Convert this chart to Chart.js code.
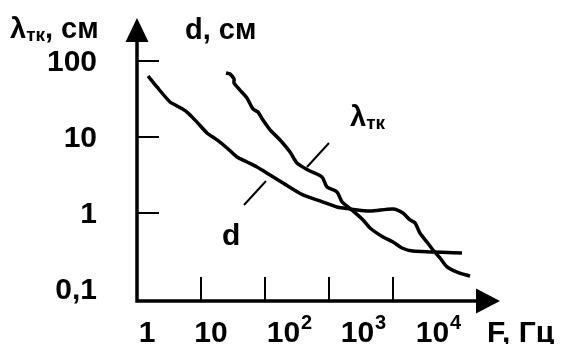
<!DOCTYPE html>
<html>
<head>
<meta charset="utf-8">
<script src="https://cdn.jsdelivr.net/npm/chart.js@4/dist/chart.umd.min.js"></script>
<style>
html,body{margin:0;padding:0;background:#fff;}
canvas{display:block;}
</style>
</head>
<body>
<canvas id="c" width="566" height="344"></canvas>
<script>
// ---- data ----
const F_D = [1.49, 2.05, 3.28, 4.22, 6.04, 8.66, 12.4, 17.8, 25.5, 36.5, 52.3, 75, 120, 191, 392, 723, 1334, 2130, 4370, 10000, 14300, 18400, 22100, 26300, 33900, 42200, 54200, 69800, 100000, 160000];
const D_CM = [63.5, 45.5, 28.9, 25.6, 21.3, 15.7, 11.3, 9.14, 7.17, 5.46, 4.69, 4.03, 3.16, 2.48, 1.73, 1.44, 1.2, 1.13, 1.06, 1.13, 1.0, 0.81, 0.74, 0.546, 0.415, 0.326, 0.256, 0.195, 0.167, 0.148];
const F_L = [24.6, 28.4, 32.8, 32.8, 40.7, 52.3, 64.9, 77.7, 93, 120, 172, 246, 316, 470, 777, 931, 1334, 1596, 2290, 3400, 4370, 6980, 10000, 13800, 20500, 119700];
const L_CM = [69.5, 67.5, 58, 51.4, 41.5, 32.6, 23.4, 21.3, 16.7, 12.4, 9.14, 6.35, 4.55, 3.68, 2.98, 2.2, 1.89, 1.4, 1.09, 0.81, 0.635, 0.483, 0.415, 0.346, 0.316, 0.298];
const Y_TICKS = [100, 10, 1, 0.1];
const Y_TICK_LABELS = ['100', '10', '1', '0,1'];
const Y_TICK_MARKS = [100, 10, 1];
const X_TICKS = [1, 10, 100, 1000, 10000];
const X_TICK_BASE = ['1', '10', '10', '10', '10'];
const X_TICK_EXP = ['', '', '2', '3', '4'];
const X_TICK_MARKS = [10, 100, 1000, 10000];

// ---- layout / style ----
const FONT = '"Liberation Sans", Arial, sans-serif';
const BIG = 'bold 30px ' + FONT;
const MID = 'bold 29px ' + FONT;
const SMALL = 'bold 19px ' + FONT;
const SUP = 'bold 20px ' + FONT;
const X_LABEL_CENTERS = [147, 211, 289, 363, 438];

function drawSub(ctx, x, y, font, main, sub, rest) {
  ctx.textAlign = 'left';
  ctx.textBaseline = 'alphabetic';
  ctx.font = font;
  ctx.fillText(main, x, y);
  x += ctx.measureText(main).width;
  ctx.font = SMALL;
  ctx.fillText(sub, x, y + 3);
  x += ctx.measureText(sub).width;
  if (rest) {
    ctx.font = font;
    ctx.fillText(rest, x, y);
  }
}

const axesPlugin = {
  id: 'axesPlugin',
  afterDraw(chart) {
    const ctx = chart.ctx;
    const xs = chart.scales.x, ys = chart.scales.y;
    const a = chart.chartArea;
    const ox = a.left, oy = a.bottom;
    ctx.save();
    ctx.fillStyle = '#000';
    ctx.strokeStyle = '#000';
    // axis lines
    ctx.lineWidth = 3.5;
    ctx.beginPath();
    ctx.moveTo(ox, oy + 1.75);
    ctx.lineTo(ox, a.top + 22);
    ctx.moveTo(ox - 1.75, oy);
    ctx.lineTo(a.right - 22, oy);
    ctx.stroke();
    // arrowheads
    ctx.beginPath();
    ctx.moveTo(ox, a.top);
    ctx.lineTo(ox - 11.5, a.top + 24);
    ctx.lineTo(ox + 11.5, a.top + 24);
    ctx.closePath();
    ctx.fill();
    ctx.beginPath();
    ctx.moveTo(a.right, oy);
    ctx.lineTo(a.right - 24, oy - 12.5);
    ctx.lineTo(a.right - 24, oy + 12.5);
    ctx.closePath();
    ctx.fill();
    // tick marks
    ctx.lineWidth = 2;
    ctx.beginPath();
    Y_TICK_MARKS.forEach(v => {
      const y = Math.round(ys.getPixelForValue(v));
      ctx.moveTo(ox, y);
      ctx.lineTo(ox + 22, y);
    });
    X_TICK_MARKS.forEach(v => {
      const x = Math.round(xs.getPixelForValue(v));
      ctx.moveTo(x, oy);
      ctx.lineTo(x, oy - 24);
    });
    ctx.stroke();
    // y tick labels
    ctx.font = BIG;
    ctx.textAlign = 'right';
    ctx.textBaseline = 'middle';
    Y_TICKS.forEach((v, i) => {
      ctx.fillText(Y_TICK_LABELS[i], 97, ys.getPixelForValue(v) + 2);
    });
    // x tick labels
    ctx.textBaseline = 'alphabetic';
    X_TICKS.forEach((v, i) => {
      ctx.font = BIG;
      const wb = ctx.measureText(X_TICK_BASE[i]).width;
      ctx.font = SUP;
      const we = X_TICK_EXP[i] ? ctx.measureText(X_TICK_EXP[i]).width : 0;
      const left = X_LABEL_CENTERS[i] - (wb + we) / 2;
      ctx.textAlign = 'left';
      ctx.font = BIG;
      ctx.fillText(X_TICK_BASE[i], left, 342);
      if (we) {
        ctx.font = SUP;
        ctx.fillText(X_TICK_EXP[i], left + wb + 1, 329);
      }
    });
    // axis titles
    ctx.font = BIG;
    ctx.textAlign = 'left';
    ctx.fillText('F, Гц', 487, 342);
    drawSub(ctx, 10, 38, MID, 'λ', 'тк', ', см');
    ctx.font = MID;
    ctx.fillText('d, см', 185, 39);
    // curve labels with leader lines
    drawSub(ctx, 350, 126, MID, 'λ', 'тк', '');
    ctx.font = BIG;
    ctx.fillText('d', 222, 245);
    ctx.lineWidth = 2;
    ctx.beginPath();
    ctx.moveTo(307, 167); ctx.lineTo(329, 143);
    ctx.moveTo(244, 205); ctx.lineTo(266, 181);
    ctx.stroke();
    ctx.restore();
  }
};

const mk = (xs, ys) => xs.map((x, i) => ({ x: x, y: ys[i] }));

new Chart(document.getElementById('c'), {
  type: 'line',
  data: {
    datasets: [
      { label: 'd', data: mk(F_D, D_CM), borderColor: '#000', borderWidth: 3.5, pointRadius: 0, tension: 0.25, fill: false },
      { label: 'λтк', data: mk(F_L, L_CM), borderColor: '#000', borderWidth: 3.5, pointRadius: 0, tension: 0.25, fill: false }
    ]
  },
  options: {
    responsive: false,
    devicePixelRatio: 1,
    animation: false,
    layout: { padding: { left: 137, right: 66, top: 18, bottom: 43 } },
    plugins: { legend: { display: false }, tooltip: { enabled: false } },
    scales: {
      x: { type: 'logarithmic', min: 1, max: 469700, display: false },
      y: { type: 'logarithmic', min: 0.0695, max: 368, display: false }
    }
  },
  plugins: [axesPlugin]
});
</script>
</body>
</html>
